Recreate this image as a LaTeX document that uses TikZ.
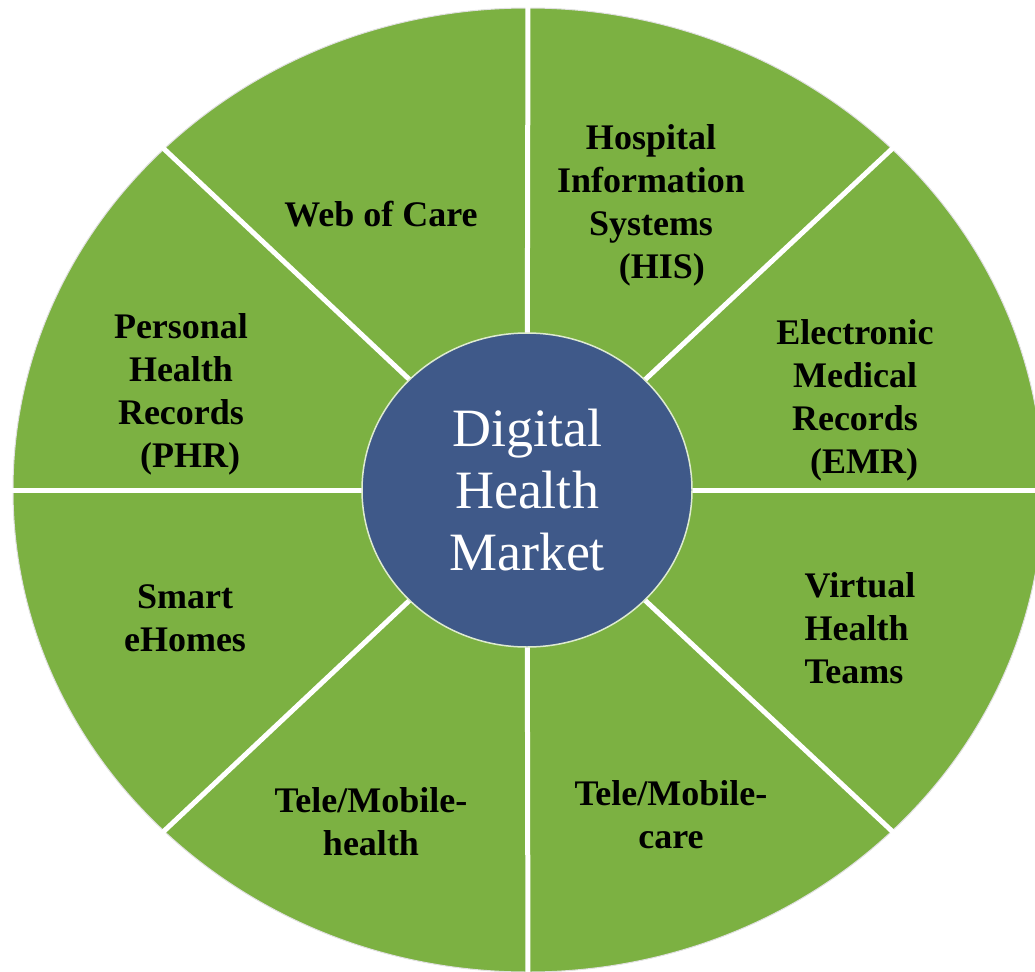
\documentclass[tikz,border=0pt]{standalone}
\usepackage{fontspec}
\setmainfont{Liberation Serif}
\usetikzlibrary{shapes.geometric}
\definecolor{wheelgreen}{RGB}{124,177,66}
\definecolor{hubblue}{RGB}{63,89,137}

\begin{document}
\begin{tikzpicture}[x=1pt,y=-1pt,
  divider/.style={draw=white,line width=5pt},
  segment/.style={font=\bfseries\fontsize{36}{43}\selectfont,align=center,text=black},
  hub/.style={ellipse,fill=hubblue,draw=white!75!wheelgreen,line width=1.5pt,
    minimum width=330pt,minimum height=314pt,inner sep=0pt,
    text=white,font=\fontsize{54}{62}\selectfont,align=center}]
  \useasboundingbox (0,0) rectangle (1035,971);
  \clip (0,0) rectangle (1035,971);
  % wheel
  \fill[wheelgreen,draw=black!12,line width=1pt] (528,490) ellipse [x radius=515, y radius=482];
  \coordinate (middle) at (527,490);
  \foreach \a in {0,45,...,315}
    \coordinate (rim-\a) at ({528+525*cos(\a)},{490-492*sin(\a)});
  \foreach \a in {0,45,...,315}
    \draw[divider] (middle) -- (rim-\a);
  \node[hub] (hub) at (middle) {Digital\\Health\\Market};
  % segments
  \path
  node[segment] (web) at (381,214) {Web of Care}
  node[segment] (his) at (651,205) {Hospital\\Information\\Systems\\\hspace*{0.6em}(HIS)}
  node[segment] (emr) at (855,400) {Electronic\\Medical\\Records\\\hspace*{0.5em}(EMR)}
  node[segment,align=left] (vht) at (860,628) {Virtual\\Health\\Teams}
  node[segment] (care) at (671,815) {Tele/Mobile-\\care}
  node[segment] (health) at (371,822) {Tele/Mobile-\\health}
  node[segment] (home) at (185,618) {Smart\\eHomes}
  node[segment] (phr) at (181,394) {Personal\\Health\\Records\\\hspace*{0.5em}(PHR)}
  ;
\end{tikzpicture}
\end{document}
